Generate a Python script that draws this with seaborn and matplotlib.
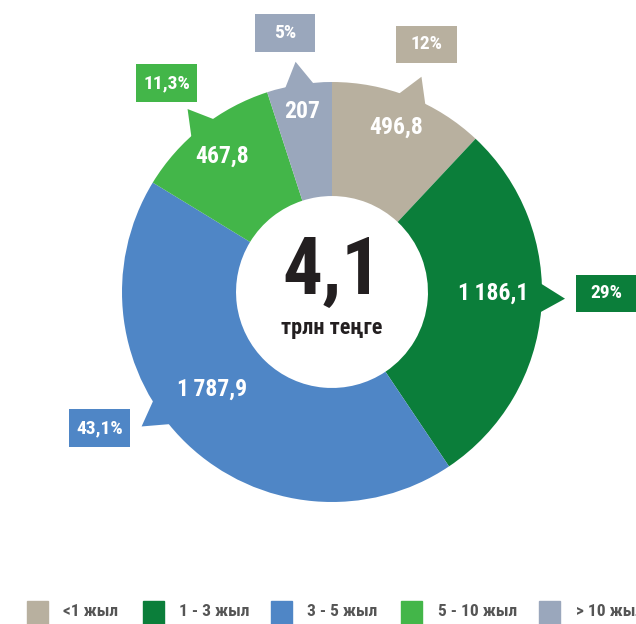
"""
donut chart: 4,1 трлн теңге by maturity
"""

import numpy as np
import seaborn as sns
import matplotlib.pyplot as plt
from matplotlib import font_manager as fm
from matplotlib.patches import Polygon, Rectangle


# data
categories = ["<1 жыл", "1 - 3 жыл", "3 - 5 жыл", "5 - 10 жыл", "> 10 жыл"]
values = [496.8, 1186.1, 1787.9, 467.8, 207]
value_labels = ["496,8", "1\u2009186,1", "1\u2009787,9", "467,8", "207"]
pct_labels = ["12%", "29%", "43,1%", "11,3%", "5%"]
total_label = "4,1"
unit_label = "трлн теңге"

# style
colors = sns.color_palette(["#b8b09f", "#0b7e3a", "#4f86c6", "#43b649", "#9aa7bc"])
sns.set_style("white")

# pick the narrowest font that is installed
names = {f.name for f in fm.fontManager.ttflist}
stretches = {(f.name, f.stretch) for f in fm.fontManager.ttflist}
narrow_fams = ["Roboto Condensed", "Open Sans Condensed", "Liberation Sans Narrow"]
found = [n for n in narrow_fams if n in names]
if found:
    plt.rcParams["font.family"] = [found[0], "DejaVu Sans"]
    stretch, k = "normal", 1.0
elif ("DejaVu Sans", "condensed") in stretches:
    plt.rcParams["font.family"] = ["DejaVu Sans"]
    stretch, k = "condensed", 0.8
else:
    plt.rcParams["font.family"] = ["DejaVu Sans"]
    stretch, k = "normal", 0.7
txt = dict(fontweight="bold", fontstretch=stretch)

# layout (pointer shift in degrees, label radius, label angle shift, box centres)
pointer_shift = [-1, 3, -11, 0, 0]
label_r = [0.843, 0.767, 0.735, 0.833, 0.87]
label_shift = [0.4, 4.2, -7.3, 0.7, 0.6]
box_xy = [(0.452, 1.179), (1.305, -0.007), (-1.105, -0.648), (-0.788, 0.995), (-0.224, 1.233)]
box_w, box_h = 0.29, 0.18
inner_r = 0.457


# instantiate
fig = plt.figure(figsize=(6.36, 6.24), dpi=100)
ax = fig.add_axes([0, 0, 1, 1])

# slices
wedges, _ = ax.pie(values, colors=colors, startangle=90, counterclock=False, radius=1,
                   wedgeprops=dict(width=1 - inner_r, linewidth=0))
ax.set_aspect("auto")
ax.set_xlim(-332 / 210, 304 / 210)
ax.set_ylim(-332 / 210, 292 / 210)
ax.axis("off")

fracs = np.array(values) / np.sum(values)
ends = 90 - 360 * np.cumsum(fracs)
starts = ends + 360 * fracs
mids = (starts + ends) / 2

for i, w in enumerate(wedges):
    # pointer triangle
    a = np.deg2rad(mids[i] + pointer_shift[i])
    da = np.deg2rad(5)
    tri = [(0.97 * np.cos(a - da), 0.97 * np.sin(a - da)),
           (1.11 * np.cos(a), 1.11 * np.sin(a)),
           (0.97 * np.cos(a + da), 0.97 * np.sin(a + da))]
    ax.add_patch(Polygon(tri, closed=True, color=colors[i], linewidth=0, zorder=1))

    # value label
    la = np.deg2rad(mids[i] + label_shift[i])
    ax.text(label_r[i] * np.cos(la), label_r[i] * np.sin(la), value_labels[i],
            ha="center", va="center", color="white", fontsize=17 * k, zorder=3, **txt)

    # percentage box
    bx, by = box_xy[i]
    ax.add_patch(Rectangle((bx - box_w / 2, by - box_h / 2), box_w, box_h,
                           color=colors[i], linewidth=0, zorder=2))
    ax.text(bx, by, pct_labels[i], ha="center", va="center", color="white",
            fontsize=14 * k, zorder=3, **txt)

# centre text
ax.text(0, 0.095, total_label, ha="center", va="center", fontsize=57 * k, color="#231f20", **txt)
ax.text(0, -0.17, unit_label, ha="center", va="center", fontsize=16 * k, color="#231f20", **txt)

# legend
sq_x = [27, 143, 271, 401, 539]
tx_x = [63, 179, 307, 438, 576]
for i, cat in enumerate(categories):
    fig.patches.append(Rectangle((sq_x[i] / 636, 0), 21 / 636, 23 / 624, color=colors[i],
                                 transform=fig.transFigure, figure=fig))
    fig.text(tx_x[i] / 636, 12 / 624, cat, ha="left", va="center", fontsize=12.5 * k,
             color="#555555", **txt)


# configurations
plt.savefig("out.png", dpi=100)
